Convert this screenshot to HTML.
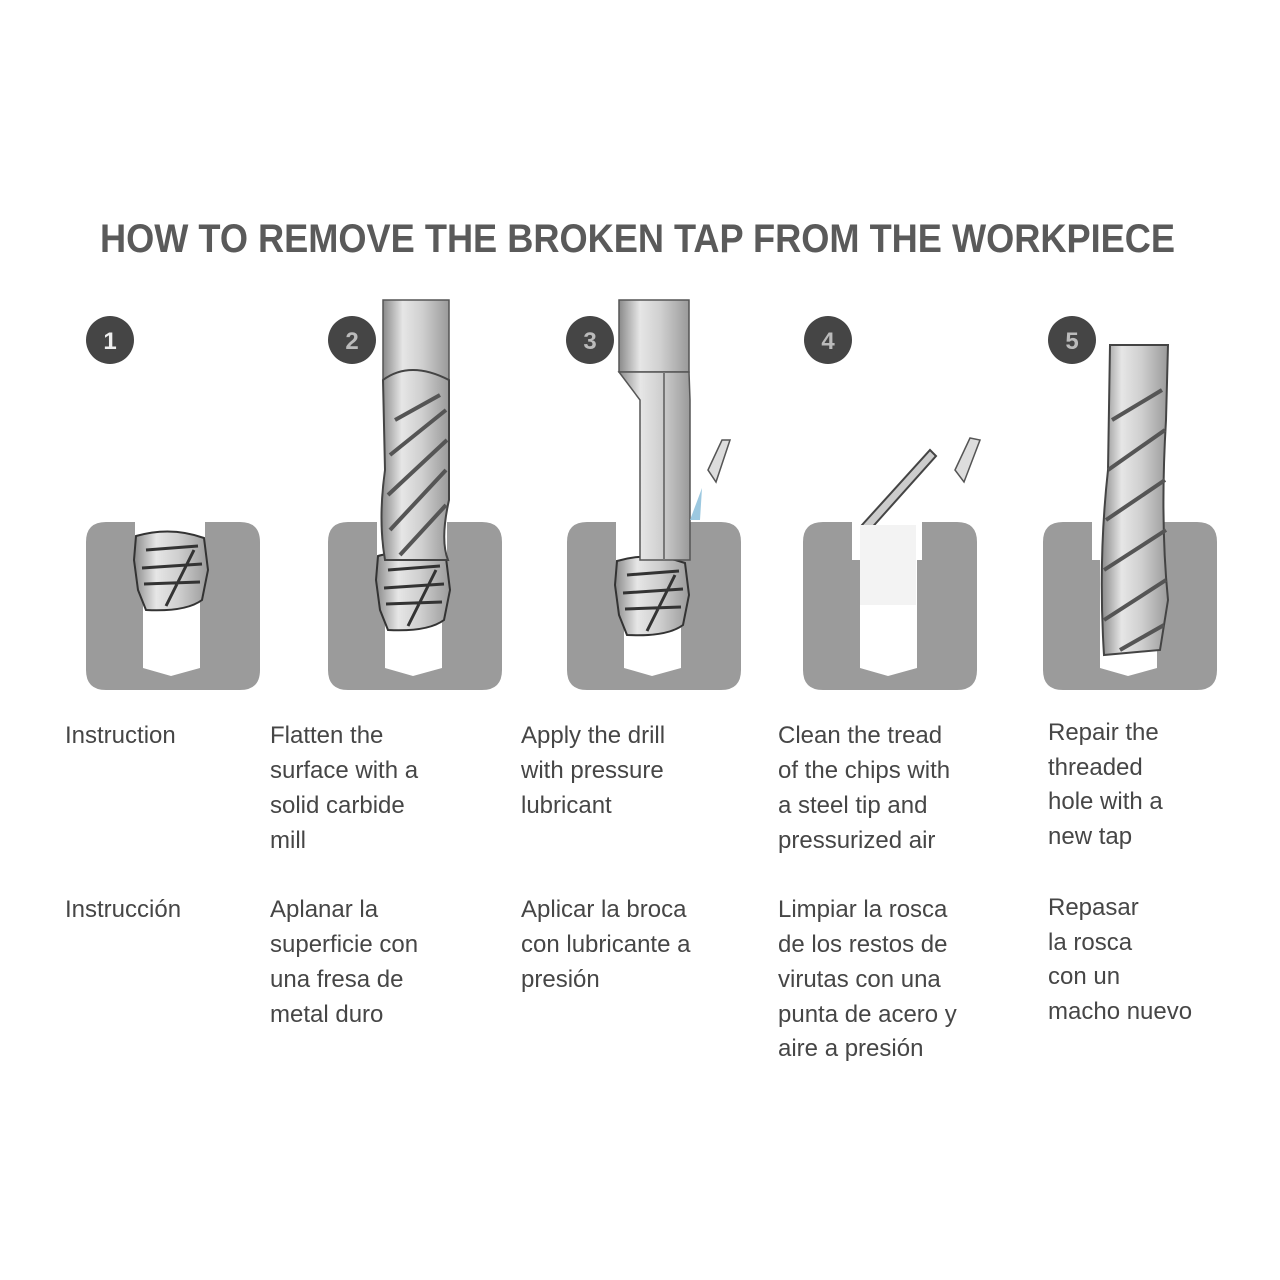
<!DOCTYPE html>
<html><head><meta charset="utf-8"><style>
html,body{margin:0;padding:0;background:#fff}
svg{display:block}
text{font-family:"Liberation Sans Narrow","Liberation Sans",sans-serif;fill:#464646}
</style></head><body>
<svg width="1280" height="1280" viewBox="0 0 1280 1280" xmlns="http://www.w3.org/2000/svg">
<defs>
<linearGradient id="sh" x1="0" x2="1"><stop offset="0" stop-color="#8a8a8a"/><stop offset="0.3" stop-color="#e6e6e6"/><stop offset="0.6" stop-color="#cfcfcf"/><stop offset="1" stop-color="#9a9a9a"/></linearGradient>
<g id="blk">
<path d="M20,0 H49 V38 H57 V146 L85,154 L114,146 V38 H119 V0 H154 Q174,0 174,20 V148 Q174,168 154,168 H20 Q0,168 0,148 V20 Q0,0 20,0 Z" fill="#9b9b9b"/>
</g>
<g id="tap">
<path d="M50,16 Q85,6 118,18 L122,50 L116,80 Q100,92 60,90 L52,70 L48,40 Z" fill="url(#sh)" stroke="#333" stroke-width="2"/>
<path d="M60,30 L112,26 M56,48 L116,44 M58,64 L114,62 M80,86 L108,30" stroke="#333" stroke-width="3" fill="none"/>
</g>
</defs>
<text x="100" y="252" font-size="40" font-weight="bold" textLength="1075" lengthAdjust="spacingAndGlyphs" style="fill:#5a5a5a;font-family:'Liberation Sans',sans-serif">HOW TO REMOVE THE BROKEN TAP FROM THE WORKPIECE</text>

<g fill="#454545">
<circle cx="110" cy="340" r="24"/><circle cx="352" cy="340" r="24"/><circle cx="590" cy="340" r="24"/><circle cx="828" cy="340" r="24"/><circle cx="1072" cy="340" r="24"/>
</g>
<g font-size="24" font-weight="bold" text-anchor="middle" style="font-family:'Liberation Sans',sans-serif">
<text x="110" y="349" style="fill:#eee">1</text><text x="352" y="349" style="fill:#bbb">2</text><text x="590" y="349" style="fill:#bbb">3</text><text x="828" y="349" style="fill:#bbb">4</text><text x="1072" y="349" style="fill:#bbb">5</text>
</g>

<use href="#blk" x="86" y="522"/><use href="#blk" x="328" y="522"/><use href="#blk" x="567" y="522"/><use href="#blk" x="803" y="522"/><use href="#blk" x="1043" y="522"/>

<use href="#tap" x="86" y="520"/>
<use href="#tap" x="328" y="540"/>
<use href="#tap" x="567" y="545"/>

<rect x="383" y="300" width="66" height="80" fill="url(#sh)" stroke="#555" stroke-width="1.5"/>
<path d="M383,380 Q410,360 449,380 L449,500 Q440,540 448,560 L385,560 Q378,520 385,470 Z" fill="url(#sh)" stroke="#444" stroke-width="2"/>
<path d="M395,420 L440,395 M390,455 L446,410 M388,495 L447,440 M390,530 L446,470 M400,555 L446,505" stroke="#555" stroke-width="4" fill="none"/>

<rect x="619" y="300" width="70" height="72" fill="url(#sh)" stroke="#555" stroke-width="1.5"/>
<path d="M619,372 L640,400 L640,560 L690,560 L690,400 L689,372 Z" fill="url(#sh)" stroke="#555" stroke-width="1.5"/>
<path d="M664,372 V560" stroke="#777" stroke-width="2"/>
<path d="M708,470 L722,440 L730,440 L716,482 Z" fill="#ddd" stroke="#555" stroke-width="1.5"/>
<path d="M702,488 L690,520 L700,520 Z" fill="#9cc8e0"/>

<path d="M862,525 L930,450 L936,456 L868,532 Z" fill="#ccc" stroke="#444" stroke-width="2"/>
<path d="M955,470 L970,438 L980,440 L964,482 Z" fill="#ddd" stroke="#555" stroke-width="1.5"/>
<rect x="860" y="525" width="56" height="80" fill="#f3f3f3"/>

<path d="M1110,345 L1168,345 L1166,420 Q1160,520 1168,600 L1160,650 L1104,655 Q1098,560 1108,470 Z" fill="url(#sh)" stroke="#444" stroke-width="2"/>
<path d="M1112,420 L1162,390 M1108,470 L1165,430 M1106,520 L1165,480 M1104,570 L1166,530 M1104,620 L1166,580 M1120,650 L1164,625" stroke="#555" stroke-width="4" fill="none"/>

<g font-size="24">
<g transform="translate(65,0)"><text y="743">Instruction</text><text y="917">Instrucción</text></g>
<g transform="translate(270,0)"><text y="743">Flatten the</text><text y="778">surface with a</text><text y="813">solid  carbide</text><text y="848">mill</text>
<text y="917">Aplanar la</text><text y="952">superficie con</text><text y="987">una fresa de</text><text y="1022">metal duro</text></g>
<g transform="translate(521,0)"><text y="743">Apply the drill</text><text y="778">with pressure</text><text y="813">lubricant</text>
<text y="917">Aplicar la broca</text><text y="952">con lubricante a</text><text y="987">presión</text></g>
<g transform="translate(778,0)"><text y="743">Clean the tread</text><text y="778">of the chips with</text><text y="813">a steel tip and</text><text y="848">pressurized air</text>
<text y="917">Limpiar la rosca</text><text y="952">de los restos de</text><text y="987">virutas con una</text><text y="1022">punta de acero y</text><text y="1056">aire a presión</text></g>
<g transform="translate(1048,0)"><text y="740">Repair the</text><text y="775">threaded</text><text y="809">hole with a</text><text y="844">new tap</text>
<text y="915">Repasar</text><text y="950">la rosca</text><text y="984">con un</text><text y="1019">macho nuevo</text></g>
</g>
</svg>
</body></html>
